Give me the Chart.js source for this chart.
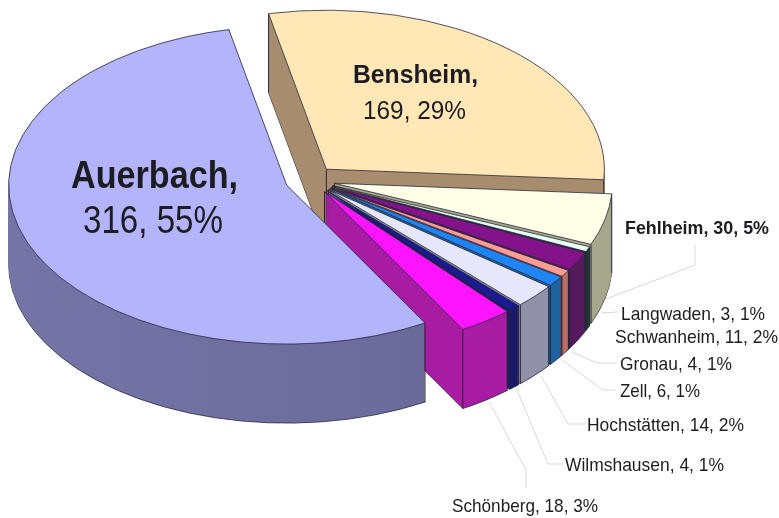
<!DOCTYPE html>
<html>
<head>
<meta charset="utf-8">
<style>
    html, body { margin: 0; padding: 0; background: #fff; }
    canvas { display: block; }
</style>
<script src="https://cdn.jsdelivr.net/npm/chart.js@4/dist/chart.umd.min.js"></script>
</head>
<body>
<canvas id="chartOrte" width="779" height="518"></canvas>
<script>
    // Slices run clockwise from Bensheim, Auerbach closes the circle and is painted last
    const categories = ['Bensheim', 'Fehlheim', 'Langwaden', 'Schwanheim', 'Gronau', 'Zell', 'Hochstätten', 'Wilmshausen', 'Schönberg', 'Auerbach'];
    const values = [169, 30, 3, 11, 4, 6, 14, 4, 18, 316];
    const percents = [29, 5, 1, 2, 1, 1, 2, 1, 3, 55];

    const topColors = ['#ffe7b6', '#ffffe8', '#e8fff4', '#84128a', '#ff9c94', '#1f84f4', '#e6e6fc', '#1a1a94', '#ff14ff', '#b4b4fc'];
    const wallColors = [
        ['#a88c6e', '#a88c6e'], ['#a6a68a', '#a6a68a'], ['#1e3a30', '#1e3a30'], ['#541a5c', '#541a5c'], ['#b86e66', '#b86e66'],
        ['#1f62a0', '#1f62a0'], ['#9090a8', '#9090a8'], ['#1a1a66', '#1a1a66'], ['#a81ca4', '#a81ca4'], ['#7474a6', '#6a6a9a']
    ];

    const RADIUS = 278;
    const SQUASH = 0.572;
    const DEPTH = 79;
    const EXPLODE = 25;
    const CENTER_X = 310;
    const CENTER_Y = 180;
    const EDGE = '#26263a';

    // [slice index, x, baseline, text width] - the reference text is narrowed, so width is fixed
    const smallLabels = [
        [2, 621, 320, 144], [3, 615, 343, 163], [4, 620, 370, 112], [5, 620, 397, 80],
        [6, 587, 431, 157], [7, 565, 471, 159], [8, 452, 512, 146]
    ];
    const leaders = [
        [[695, 245], [695, 265], [606, 299]],
        [[618, 312], [601, 313]],
        [[616, 363], [597, 363], [572, 352]],
        [[616, 390], [603, 390], [562, 360]],
        [[586, 424], [568, 424], [541, 376]],
        [[563, 464], [548, 464], [517, 390]],
        [[526, 488], [526, 470], [489, 402]]
    ];

    const sliceLabel = i => categories[i] + ', ' + values[i] + ', ' + percents[i] + '%';
    const numbersOnly = i => values[i] + ', ' + percents[i] + '%';

    function wallOptions(color, width) {
        return {
            backgroundColor: color, borderColor: EDGE, borderWidth: width, borderAlign: 'center',
            borderDash: [], borderDashOffset: 0, borderJoinStyle: 'round', borderRadius: 0,
            circular: true, offset: 0, spacing: 0
        };
    }

    const pie3d = {
        id: 'pie3d',
        beforeDatasetsDraw(chart) {
            const ctx = chart.ctx;
            chart.getDatasetMeta(0).data.forEach((arc, i) => {
                const mid = (arc.startAngle + arc.endAngle) / 2;
                const ox = CENTER_X + Math.cos(mid) * EXPLODE;
                const oy = CENTER_Y + Math.sin(mid) * EXPLODE * SQUASH;
                const paint = drop => {
                    ctx.save();
                    ctx.translate(ox, oy + drop);
                    ctx.scale(1, SQUASH);
                    ctx.translate(-arc.x, -arc.y);
                    arc.draw(ctx);
                    ctx.restore();
                };

                // the side wall is the same arc repeated downwards
                const topOptions = arc.options;
                const gradient = ctx.createLinearGradient(arc.x - RADIUS, 0, arc.x + RADIUS * 0.6, 0);
                gradient.addColorStop(0, wallColors[i][0]);
                gradient.addColorStop(1, wallColors[i][1]);
                arc.options = wallOptions(gradient, 1);
                paint(DEPTH);
                arc.options = wallOptions(gradient, 0);
                for (let d = DEPTH - 1; d > 0; d--) paint(d);
                arc.options = topOptions;

                // vertical wall edges at the tip and both ends of the slice
                ctx.save();
                ctx.strokeStyle = EDGE;
                ctx.lineWidth = 1;
                [null, arc.startAngle, arc.endAngle].forEach(a => {
                    const x = ox + (a === null ? 0 : Math.cos(a) * RADIUS);
                    const y = oy + (a === null ? 0 : Math.sin(a) * RADIUS * SQUASH);
                    ctx.beginPath();
                    ctx.moveTo(x, y);
                    ctx.lineTo(x, y + DEPTH);
                    ctx.stroke();
                });
                ctx.restore();

                paint(0);
            });
            return false;
        },
        afterDraw(chart) {
            const ctx = chart.ctx;
            ctx.save();
            ctx.strokeStyle = '#d8d8d8';
            ctx.lineWidth = 1;
            leaders.forEach(line => {
                ctx.beginPath();
                line.forEach((p, k) => k ? ctx.lineTo(p[0], p[1]) : ctx.moveTo(p[0], p[1]));
                ctx.stroke();
            });

            ctx.fillStyle = '#1c1c22';
            ctx.textBaseline = 'alphabetic';
            ctx.font = 'bold 39px "Liberation Sans"';
            ctx.fillText(categories[9] + ',', 71, 188, 167);
            ctx.font = '38px "Liberation Sans"';
            ctx.fillText(numbersOnly(9), 83, 233, 140);
            ctx.font = 'bold 26px "Liberation Sans"';
            ctx.fillText(categories[0] + ',', 353, 83, 125);
            ctx.font = '26.5px "Liberation Sans"';
            ctx.fillText(numbersOnly(0), 363, 119, 103);
            ctx.font = 'bold 18.5px "Liberation Sans"';
            ctx.fillText(sliceLabel(1), 625, 234, 144);
            ctx.font = '18.5px "Liberation Sans"';
            smallLabels.forEach(l => ctx.fillText(sliceLabel(l[0]), l[1], l[2], l[3]));
            ctx.restore();
        }
    };

    new Chart(document.getElementById('chartOrte'), {
        type: 'pie',
        data: {
            labels: categories,
            datasets: [{
                data: values,
                backgroundColor: topColors,
                borderColor: EDGE,
                borderWidth: 1,
                radius: RADIUS
            }]
        },
        options: {
            responsive: false,
            animation: false,
            rotation: -12,
            events: [],
            plugins: { legend: { display: false }, tooltip: { enabled: false } }
        },
        plugins: [pie3d]
    });
</script>
</body>
</html>
